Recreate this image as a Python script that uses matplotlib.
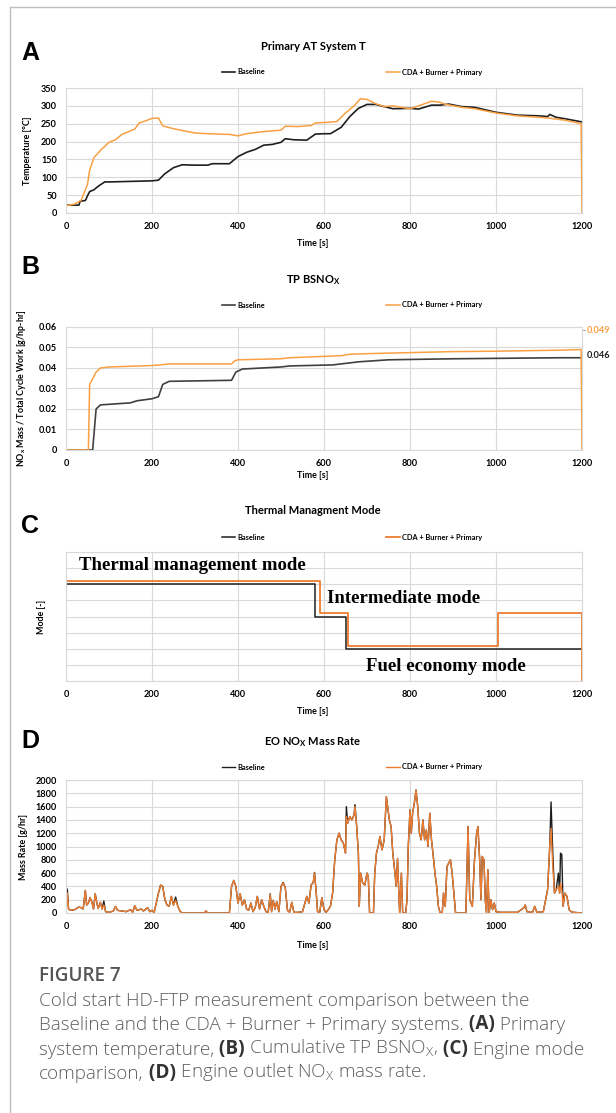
import numpy as np
import matplotlib.pyplot as plt
from matplotlib.lines import Line2D

plt.rcParams['font.family'] = ['Lato', 'DejaVu Sans']
plt.rcParams['mathtext.fontset'] = 'custom'

# ---- data ----
# A: primary AT system temperature [C]
a_t_base = [0, 30, 33, 45, 50, 55, 65, 75, 90, 100, 200, 215, 230, 250, 270, 300, 330, 340, 380,
            400, 420, 440, 460, 480, 500, 510, 530, 560, 580, 600, 615, 640, 660, 680, 700, 720,
            740, 760, 800, 820, 850, 870, 890, 920, 950, 1000, 1050, 1100, 1120, 1125, 1140, 1160, 1200]
a_base = [22, 22, 33, 35, 48, 60, 65, 75, 87, 87, 90, 92, 110, 127, 135, 134, 134, 138, 138,
          158, 170, 178, 190, 192, 198, 208, 205, 204, 221, 222, 222, 240, 270, 293, 304, 304,
          298, 292, 293, 291, 302, 302, 305, 298, 296, 282, 274, 272, 270, 276, 268, 264, 255]
a_t_cda = [0, 20, 35, 45, 50, 55, 65, 80, 100, 115, 130, 150, 160, 170, 185, 200, 215, 225, 250,
           300, 330, 380, 400, 420, 460, 500, 510, 540, 570, 580, 610, 630, 650, 670, 685, 700,
           720, 740, 760, 780, 800, 820, 850, 870, 880, 920, 950, 1000, 1050, 1100, 1120, 1160,
           1198, 1200]
a_cda = [20, 25, 35, 65, 80, 120, 155, 175, 198, 205, 220, 230, 235, 252, 258, 265, 266, 244, 236,
         224, 222, 220, 216, 222, 228, 232, 243, 242, 245, 252, 254, 256, 280, 300, 320, 318,
         306, 298, 300, 296, 292, 300, 313, 310, 305, 296, 292, 280, 272, 268, 266, 260,
         250, 0]

# B: cumulative TP BSNOx [g/hp-hr]
b_t_base = [0, 62, 66, 70, 80, 150, 165, 200, 215, 225, 240, 385, 395, 410, 500, 520, 620, 640,
            680, 750, 900, 1000, 1150, 1200]
b_base = [0, 0, 0.010, 0.020, 0.022, 0.023, 0.024, 0.025, 0.026, 0.032, 0.0335, 0.034, 0.038,
          0.0395, 0.0405, 0.041, 0.0415, 0.042, 0.043, 0.044, 0.0445, 0.0447, 0.045, 0.045]
b_t_cda = [0, 52, 55, 60, 70, 80, 100, 200, 220, 240, 385, 392, 400, 500, 520, 580, 640, 660,
           700, 800, 900, 1000, 1150, 1198, 1200]
b_cda = [0, 0, 0.032, 0.034, 0.038, 0.040, 0.0405, 0.0412, 0.0415, 0.042, 0.042, 0.0435, 0.044,
         0.0445, 0.045, 0.0455, 0.046, 0.0467, 0.047, 0.0475, 0.048, 0.0482, 0.0487, 0.049, 0]
b_labels = ['0.049', '0.046']

# C: thermal management mode (levels offset slightly in the original for visibility)
c_t_base = [0, 0, 579, 651, 1200]
c_base = [0, 6, 4, 2, 2]
c_t_cda = [0, 0, 590, 656, 1004, 1200, 1200]
c_cda = [0, 6.2, 4.2, 2.2, 4.2, 4.2, 0]
c_modes = ['Thermal management mode', 'Intermediate mode', 'Fuel economy mode']

# D: engine-out NOx mass rate [g/hr]
d_t = [0, 3, 6, 10, 20, 30, 35, 40, 45, 48, 52, 56, 60, 64, 68, 72, 75, 80, 84, 88, 92, 100,
       110, 115, 120, 130, 140, 150, 155, 160, 165, 175, 180, 190, 195, 200, 205, 210, 215, 220,
       225, 230, 235, 240, 245, 250, 255, 260, 265, 270, 322, 325, 330, 380, 385, 390, 395, 400,
       405, 410, 415, 420, 425, 430, 435, 440, 445, 450, 455, 460, 465, 470, 475, 478, 482, 486,
       490, 495, 500, 505, 510, 515, 520, 525, 530, 540, 550, 560, 565, 570, 575, 578, 582, 585,
       590, 595, 600, 605, 610, 615, 620, 625, 630, 635, 640, 645, 650, 652, 655, 660, 665, 670,
       672, 676, 680, 682, 685, 690, 695, 700, 703, 706, 715, 718, 722, 726, 730, 735, 740, 745,
       748, 752, 756, 760, 765, 768, 771, 774, 776, 780, 783, 790, 793, 796, 800, 803, 806, 810,
       814, 818, 822, 826, 830, 834, 838, 842, 846, 850, 855, 858, 862, 866, 870, 875, 878, 882,
       886, 890, 894, 898, 902, 906, 930, 935, 939, 945, 950, 955, 958, 962, 965, 968, 972, 975,
       978, 981, 984, 988, 992, 996, 1000, 1010, 1050, 1065, 1068, 1072, 1085, 1090, 1095, 1110,
       1120, 1125, 1128, 1132, 1136, 1140, 1145, 1148, 1150, 1153, 1156, 1160, 1165, 1170, 1175,
       1180, 1200]
d_cda = [0, 300, 60, 40, 50, 90, 80, 60, 340, 120, 150, 230, 170, 60, 290, 140, 70, 160, 60, 120,
         20, 10, 30, 100, 40, 30, 20, 50, 10, 110, 40, 60, 30, 80, 20, 40, 10, 150, 300, 420,
         400, 200, 120, 100, 250, 120, 190, 100, 30, 0, 0, 30, 0, 0, 400, 490, 400, 150,
         290, 120, 200, 60, 40, 150, 20, 80, 250, 60, 200, 100, 20, 0, 280, 20, 190, 60,
         170, 20, 400, 450, 380, 40, 10, 160, 10, 10, 20, 250, 150, 420, 460, 600, 300, 20,
         10, 230, 50, 10, 50, 100, 300, 800, 1100, 1200, 1100, 1050, 900, 1450, 1350, 1450, 1400, 1480,
         1600, 1300, 900, 100, 600, 450, 420, 600, 550, 0, 0, 600, 900, 1000, 1150, 950, 1100, 1750,
         1600, 1400, 1300, 900, 600, 400, 820, 300, 0, 600, 0, 0, 200, 1000, 1550, 1200, 1500, 1650,
         1850, 1600, 1200, 1100, 1400, 1100, 1250, 1000, 1500, 1100, 800, 600, 400, 100, 0, 0, 300, 100,
         700, 750, 800, 600, 300, 0, 0, 1300, 200, 100, 800, 1200, 1300, 800, 200, 850, 800, 200,
         0, 650, 0, 200, 50, 150, 20, 10, 10, 80, 120, 20, 10, 100, 10, 20,
         350, 1000, 1270, 700, 300, 350, 400, 300, 450, 350, 100, 300, 250, 50, 20,
         10, 0]
d_base = list(d_cda)
for tt, vv in [(3, 360), (88, 180), (255, 240), (475, 290), (505, 460), (578, 610), (652, 1600),
               (672, 1630), (1128, 1670), (1132, 900), (1145, 600), (1150, 900), (1153, 880)]:
    d_base[d_t.index(tt)] = vv

BLACK = '#1f1f1f'
ORANGE_L = '#F8A042'
ORANGE = '#ED7D31'
GRID = '#d9d9d9'

W, H = 616, 1113
fig = plt.figure(figsize=(W / 100, H / 100), dpi=100)
L, R = 66, 582


def fx(px):
    return px / W


def fy(py):
    return 1 - py / H


def make_axes(top, bottom):
    ax = fig.add_axes([fx(L), fy(bottom), (R - L) / W, (bottom - top) / H])
    ax.set_xlim(0, 1200)
    ax.set_xticks(range(0, 1201, 200))
    ax.grid(True, color=GRID, lw=0.8)
    ax.set_axisbelow(True)
    for s in ax.spines.values():
        s.set_color(GRID)
        s.set_linewidth(0.8)
    ax.tick_params(length=0, labelsize=6.6, pad=6.5)
    for lab in ax.get_xticklabels() + ax.get_yticklabels():
        lab.set_fontweight('bold')
    return ax


def decorate(ax, top, bottom, letter, letter_y, title, title_y, legend_y, ylabel, ylabel_x,
             xlabel_y, handles):
    fig.text(fx(30), fy(letter_y), letter, fontsize=18, fontweight='bold',
             fontfamily='Liberation Sans', ha='center', va='center')
    fig.text(fx(313), fy(title_y), title, fontsize=8, fontweight='bold', ha='center',
             va='center')
    leg = ax.legend(handles=handles, labels=['Baseline', 'CDA + Burner + Primary'], ncol=2,
                    loc='center', bbox_to_anchor=(fx(352), fy(legend_y)),
                    bbox_transform=fig.transFigure, frameon=False, fontsize=5.3,
                    handlelength=1.8, handletextpad=0.3, columnspacing=16.5, borderpad=0)
    for t in leg.get_texts():
        t.set_fontweight('bold')
    fig.text(fx(ylabel_x), fy((top + bottom) / 2), ylabel, fontsize=6.4, fontweight='bold',
             rotation=90, ha='center', va='center')
    fig.text(fx(313), fy(xlabel_y), 'Time [s]', fontsize=6.4, fontweight='bold', ha='center',
             va='center')


# ---- panel A ----
topA, botA = 88, 213
axA = make_axes(topA, botA)
lb, = axA.plot(a_t_base, a_base, color=BLACK, lw=1.2)
lc, = axA.plot(a_t_cda, a_cda, color=ORANGE_L, lw=1.1)
axA.set_ylim(0, 350)
axA.set_yticks(range(0, 351, 50))
for lab in axA.get_yticklabels():
    lab.set_fontweight('bold')
decorate(axA, topA, botA, 'A', 53, 'Primary AT System T', 47, 72, 'Temperature [\u00b0C]', 28,
         243, [lb, lc])

# ---- panel B ----
topB, botB = 327, 450
axB = make_axes(topB, botB)
lb, = axB.plot(b_t_base, b_base, color='#404040', lw=1.2)
lc, = axB.plot(b_t_cda, b_cda, color=ORANGE_L, lw=1.1)
axB.set_ylim(0, 0.06)
axB.set_yticks(np.arange(0, 0.061, 0.01))
axB.set_yticklabels(['0', '0.01', '0.02', '0.03', '0.04', '0.05', '0.06'], fontweight='bold')
axB.plot([1200, 1200, 1208], [0.049, 0.0585, 0.0585], color='#a6a6a6', lw=0.7, clip_on=False)
axB.annotate(b_labels[0], xy=(1200, 0.049), xytext=(fx(587), fy(330)),
             textcoords='figure fraction', fontsize=6.6, fontweight='bold', color=ORANGE_L,
             va='center')
axB.annotate(b_labels[1], xy=(1200, b_base[-1]), xytext=(fx(587), fy(356)),
             textcoords='figure fraction', fontsize=6.6, fontweight='bold', color=BLACK,
             va='center')
decorate(axB, topB, botB, 'B', 267, 'TP BSNO$_\\mathregular{X}$', 280, 305,
         'NO$_\\mathregular{x}$ Mass / Total Cycle Work [g/hp-hr]', 22, 476, [lb, lc])

# ---- panel C ----
topC, botC = 552, 681
axC = make_axes(topC, botC)
lb, = axC.step(c_t_base, c_base, where='post', color=BLACK, lw=1.1)
lc, = axC.step(c_t_cda, c_cda, where='post', color=ORANGE, lw=1.3)
axC.set_ylim(0, 8)
axC.set_yticks(range(0, 9))
axC.set_yticklabels([])
serif = dict(fontfamily='Liberation Serif', fontweight='bold', fontsize=13.5, ha='center',
             va='center')
axC.text(293, 7.14, c_modes[0], **serif)
axC.text(786, 5.1, c_modes[1], **serif)
axC.text(884, 0.87, c_modes[2], **serif)
decorate(axC, topC, botC, 'C', 526, 'Thermal Managment Mode', 510, 537, 'Mode [-]', 42, 711,
         [lb, lc])

# ---- panel D ----
topD, botD = 780, 913
axD = make_axes(topD, botD)
lb, = axD.plot(d_t, d_base, color=BLACK, lw=1.0)
lc, = axD.plot(d_t, d_cda, color=ORANGE, lw=1.0)
axD.set_ylim(0, 2000)
axD.set_yticks(range(0, 2001, 200))
for lab in axD.get_yticklabels():
    lab.set_fontweight('bold')
decorate(axD, topD, botD, 'D', 741, 'EO NO$_\\mathregular{X}$ Mass Rate', 742, 767,
         'Mass Rate [g/hr]', 23, 945, [lb, lc])

# ---- frame lines ----
fig.add_artist(Line2D([fx(10), fx(10)], [fy(7), fy(1113)], color='#bfbfbf', lw=1.0))
fig.add_artist(Line2D([fx(10), 1], [fy(7), fy(7)], color='#bfbfbf', lw=1.0))

# ---- caption ----
cax = fig.add_axes([0, 0, 1, 1])
cax.axis('off')
CAP = dict(fontfamily=['Open Sans', 'DejaVu Sans'], fontsize=13.6)
cax.text(fx(39), fy(976), 'FIGURE 7', color='#555555', fontweight='semibold', va='center',
         transform=fig.transFigure, **CAP)

lines = [
    [('Cold start HD-FTP measurement comparison between the', False)],
    [('Baseline and the CDA + Burner + Primary systems.', False), (' (A)', True),
     (' Primary', False)],
    [('system temperature,', False), (' (B)', True),
     (' Cumulative TP BSNO$_\\mathregular{X}$,', False), (' (C)', True), (' Engine mode', False)],
    [('comparison,', False), (' (D)', True),
     (' Engine outlet NO$_\\mathregular{X}$ mass rate.', False)],
]
for i, parts in enumerate(lines):
    y = 1001 + i * 24.3
    prev = None
    for txt, bold in parts:
        kw = dict(color='#333333' if bold else '#5f5f5f',
                  fontweight='bold' if bold else 'light', **CAP)
        if prev is None:
            prev = cax.text(fx(39), fy(y), txt, va='center', transform=fig.transFigure, **kw)
        else:
            prev = cax.annotate(txt, xy=(1, 0), xycoords=prev, va='bottom', ha='left', **kw)

fig.savefig('out.png', dpi=100)
